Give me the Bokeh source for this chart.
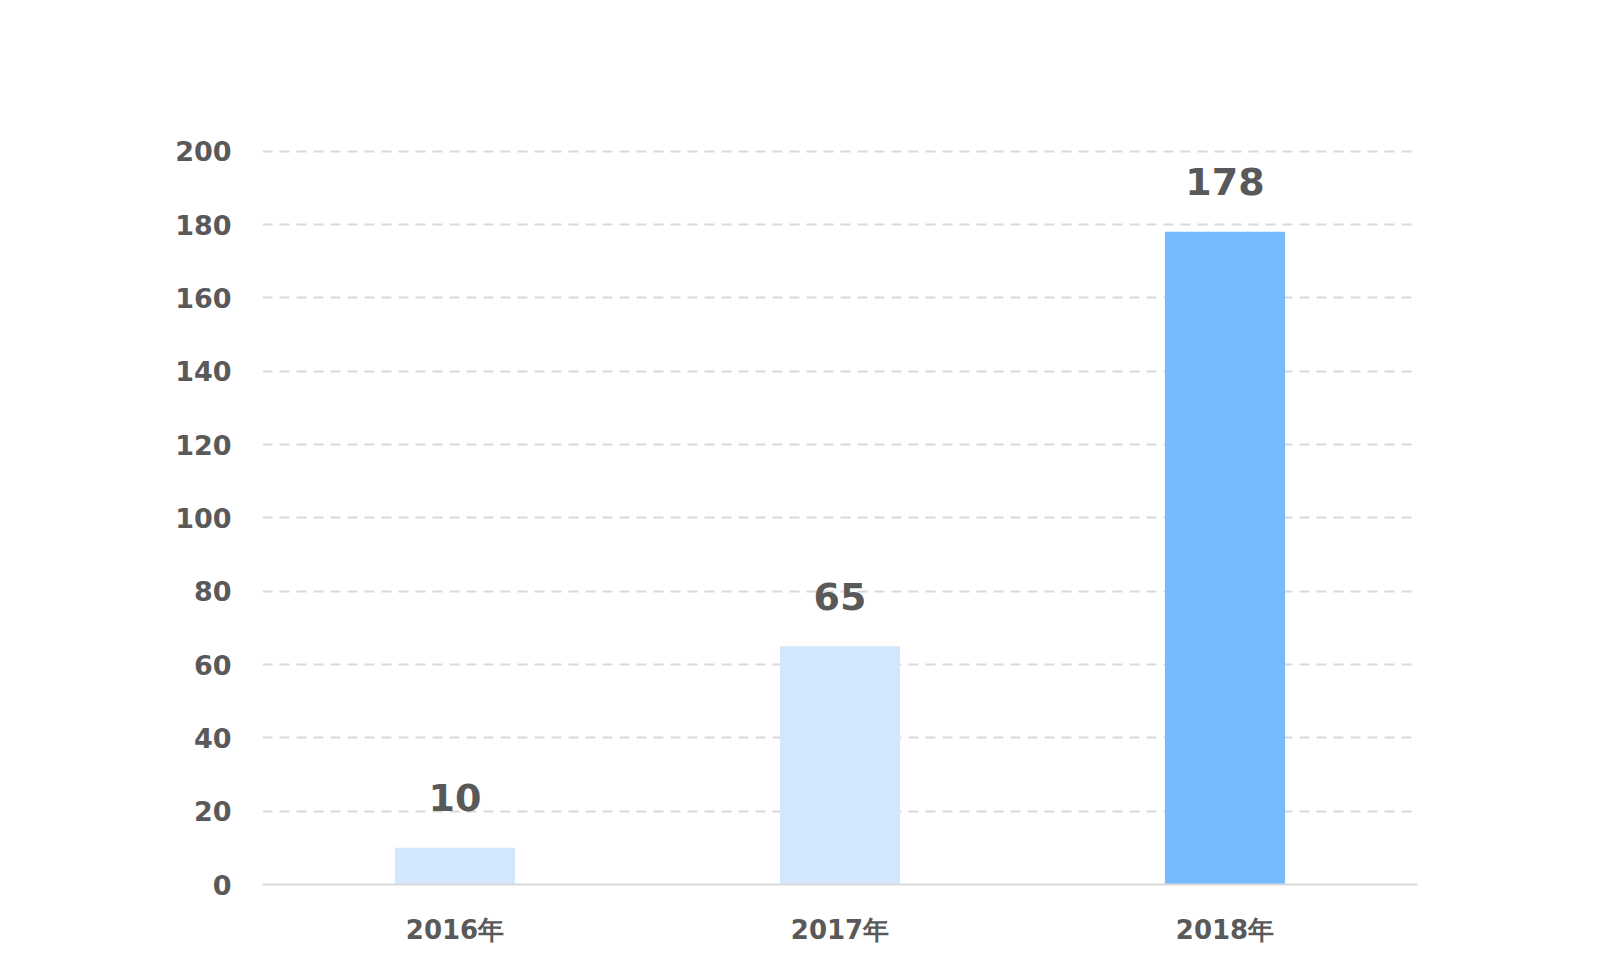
from bokeh.plotting import figure
from bokeh.models import ColumnDataSource, Range1d, FixedTicker
from bokeh.core.properties import value
from bokeh.embed import file_html
from bokeh.resources import INLINE

categories = ["2016年", "2017年", "2018年"]
values = [10, 65, 178]
labels = ["10", "65", "178"]
colors = ["#d2e7fc", "#d2e7fc", "#76bbfd"]
y_ticks = [0, 20, 40, 60, 80, 100, 120, 140, 160, 180, 200]

FONT = "DejaVu Sans"
TEXT = "#595959"

src = ColumnDataSource(dict(cat=categories, val=values, lab=labels, col=colors))

p = figure(width=1584, height=956, x_range=categories, y_range=Range1d(0, 201),
           output_backend="svg", toolbar_location=None,
           min_border_left=262, min_border_top=147, min_border_right=167, min_border_bottom=72)
p.outline_line_color = None
p.background_fill_color = "white"
p.border_fill_color = "white"

p.vbar(x="cat", top="val", width=0.312, bottom=0, fill_color="col", line_color=None, source=src)
p.text(x="cat", y="val", text="lab", source=src, text_align="center", text_baseline="alphabetic",
       y_offset=-50, text_font=value(FONT), text_font_style="bold", text_font_size="38px",
       text_color=TEXT)

p.xgrid.grid_line_color = None
p.ygrid.grid_line_color = "#d9d9d9"
p.ygrid.grid_line_dash = "10 7"
p.ygrid.grid_line_width = 2

p.yaxis.ticker = FixedTicker(ticks=y_ticks)
p.yaxis.axis_line_color = None
p.yaxis.major_tick_line_color = None
p.yaxis.minor_tick_line_color = None
p.yaxis.major_tick_out = 0
p.yaxis.major_label_standoff = 31
p.yaxis.major_label_text_font = FONT
p.yaxis.major_label_text_font_style = "bold"
p.yaxis.major_label_text_font_size = "27px"
p.yaxis.major_label_text_color = TEXT

p.xaxis.axis_line_color = "#d9d9d9"
p.xaxis.axis_line_width = 2
p.xaxis.major_tick_line_color = None
p.xaxis.minor_tick_line_color = None
p.xaxis.major_tick_out = 0
p.xaxis.major_label_standoff = 30
p.xaxis.major_label_text_font = FONT
p.xaxis.major_label_text_font_style = "bold"
p.xaxis.major_label_text_font_size = "26px"
p.xaxis.major_label_text_color = TEXT

open("out.html", "w").write(file_html(p, INLINE))
